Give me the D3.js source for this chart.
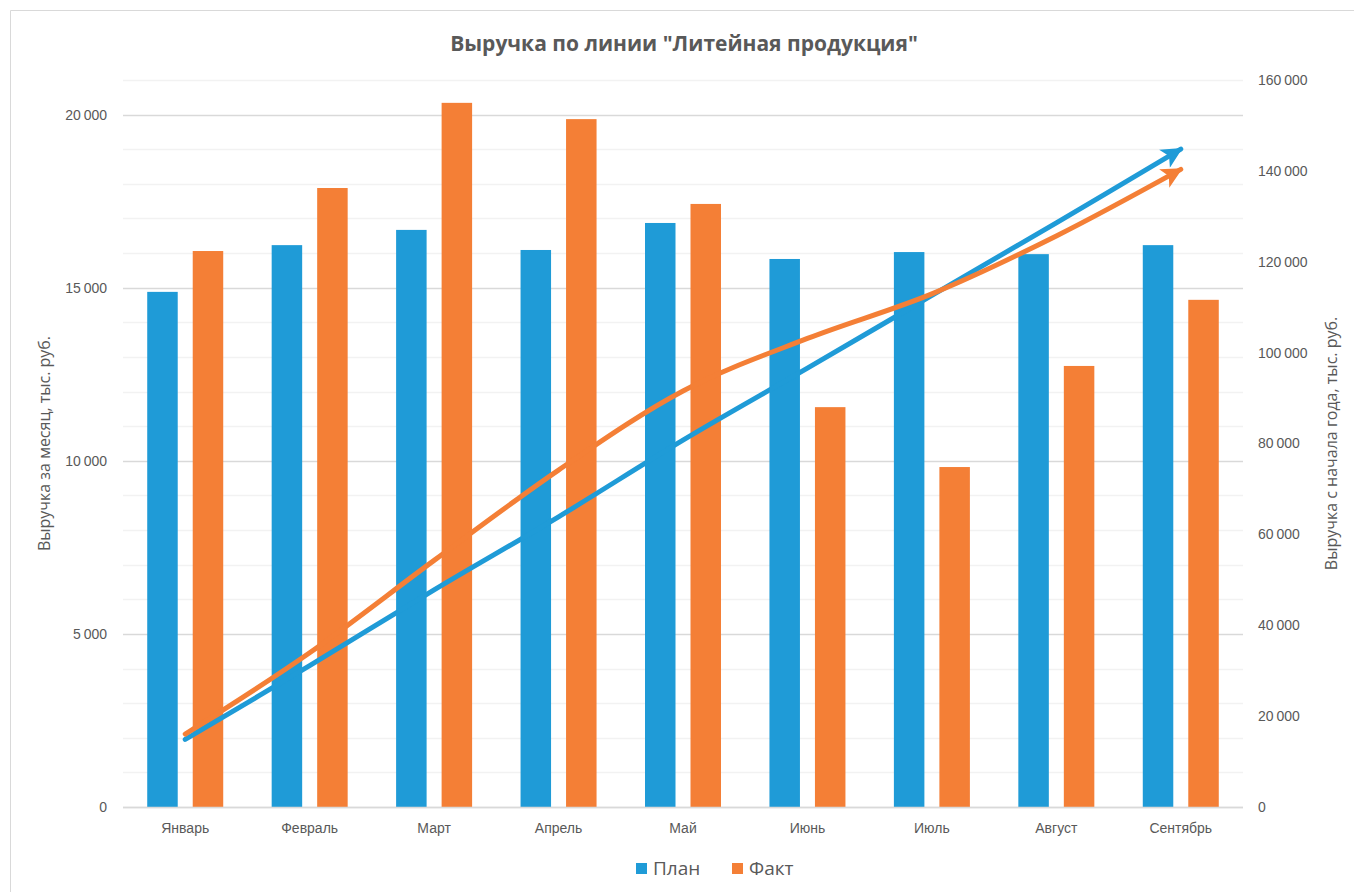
<!DOCTYPE html>
<html>
<head>
<meta charset="utf-8">
<script src="https://cdn.jsdelivr.net/npm/d3@7"></script>
<style>
  body { margin: 0; background: #fff; }
  svg { display: block; font-family: "Open Sans", "Noto Sans", sans-serif; }
  .tick text { fill: #595959; }
</style>
</head>
<body>
<svg id="chart" width="1354" height="892"></svg>
<script>
// chart data
const months = ['Январь', 'Февраль', 'Март', 'Апрель', 'Май', 'Июнь', 'Июль', 'Август', 'Сентябрь'];
const plan = [14880, 16230, 16670, 16090, 16870, 15830, 16030, 15970, 16230];
const fact = [16060, 17880, 20340, 19870, 17420, 11550, 9820, 12740, 14650];
const leftTicks = [0, 5000, 10000, 15000, 20000];
const rightTicks = [0, 20000, 40000, 60000, 80000, 100000, 120000, 140000, 160000];

const BLUE = '#1f9bd7', ORANGE = '#f47f36', TXT = '#595959';

const svg = d3.select('#chart');
const W = 1354, H = 892;
const m = { top: 80, right: 111, bottom: 85, left: 123 };
const iw = W - m.left - m.right, ih = H - m.top - m.bottom;

const loc = d3.formatLocale({ decimal: ',', thousands: '\u2009', grouping: [3], currency: ['', ''] });
const fmt = loc.format(',d');

// frame: only top and left edges are visible in the shot
svg.append('path').attr('d', `M10.5,${H} V10.5 H${W}`)
  .attr('fill', 'none').attr('stroke', '#d9d9d9');

const g = svg.append('g').attr('transform', `translate(${m.left},${m.top})`);

const x = d3.scaleBand().domain(months).range([0, iw]);
const yL = d3.scaleLinear().domain([0, 21000]).range([ih, 0]);
const yR = d3.scaleLinear().domain([0, 160000]).range([ih, 0]);

// gridlines: minor every 1000, major at ticks
g.append('g').selectAll('line').data(d3.range(1000, 21001, 1000).filter(v => v % 5000))
  .join('line').attr('x1', 0).attr('x2', iw)
  .attr('y1', d => Math.round(yL(d)) + .5).attr('y2', d => Math.round(yL(d)) + .5)
  .attr('stroke', '#f2f2f2').attr('stroke-width', 1.3);
g.append('g').selectAll('line').data(leftTicks)
  .join('line').attr('x1', 0).attr('x2', iw)
  .attr('y1', d => Math.round(yL(d)) + .5).attr('y2', d => Math.round(yL(d)) + .5)
  .attr('stroke', '#d9d9d9').attr('stroke-width', 1.3);

// bars
const bw = 30.5, gap = 15;
const series = [{ name: 'План', vals: plan, color: BLUE }, { name: 'Факт', vals: fact, color: ORANGE }];
series.forEach((s, si) => {
  g.append('g').selectAll('rect').data(s.vals).join('rect')
    .attr('x', (d, i) => x(months[i]) + x.bandwidth() / 2 - bw - gap / 2 + si * (bw + gap))
    .attr('y', d => yL(d))
    .attr('width', bw)
    .attr('height', d => ih - yL(d))
    .attr('fill', s.color);
});

// cumulative lines with arrows
const defs = svg.append('defs');
series.forEach((s, si) => {
  defs.append('marker').attr('id', 'arr' + si)
    .attr('viewBox', '0 0 10 10').attr('refX', 9).attr('refY', 5)
    .attr('markerUnits', 'userSpaceOnUse').attr('markerWidth', 24).attr('markerHeight', 21)
    .attr('orient', 'auto')
    .append('path').attr('d', 'M0,0 L10,5 L0,10 L2.5,5 Z').attr('fill', s.color);
});
const line = d3.line()
  .x((d, i) => x(months[i]) + x.bandwidth() / 2)
  .y(d => yR(d))
  .curve(d3.curveCardinal.tension(0));
series.forEach((s, si) => {
  g.append('path').datum(d3.cumsum(s.vals))
    .attr('d', line).attr('fill', 'none').attr('stroke', s.color)
    .attr('stroke-width', 5).attr('stroke-linecap', 'round')
    .attr('marker-end', `url(#arr${si})`);
});

// axes
const axB = g.append('g').attr('transform', `translate(0,${ih})`)
  .call(d3.axisBottom(x).tickSize(0).tickPadding(16));
axB.select('.domain').remove();
axB.selectAll('text').attr('font-size', 14).attr('fill', TXT);
g.append('line').attr('x1', 0).attr('x2', iw).attr('y1', ih + .5).attr('y2', ih + .5)
  .attr('stroke', '#d9d9d9').attr('stroke-width', 1.3);

const axL = g.append('g').call(d3.axisLeft(yL).tickValues(leftTicks).tickFormat(fmt).tickSize(0).tickPadding(16));
axL.select('.domain').remove();
axL.selectAll('text').attr('font-size', 14).attr('fill', TXT);

const axR = g.append('g').attr('transform', `translate(${iw},0)`)
  .call(d3.axisRight(yR).tickValues(rightTicks).tickFormat(fmt).tickSize(0).tickPadding(15));
axR.select('.domain').remove();
axR.selectAll('text').attr('font-size', 14).attr('fill', TXT);

// titles
svg.append('text').attr('x', 684).attr('y', 51).attr('text-anchor', 'middle')
  .attr('font-size', 21).attr('font-weight', 'bold').attr('fill', TXT)
  .text('Выручка по линии "Литейная продукция"');
svg.append('text').attr('transform', `translate(50,${m.top + ih / 2}) rotate(-90)`)
  .attr('text-anchor', 'middle').attr('font-size', 16).attr('fill', TXT)
  .text('Выручка за месяц, тыс. руб.');
svg.append('text').attr('transform', `translate(1337,${m.top + ih / 2}) rotate(-90)`)
  .attr('text-anchor', 'middle').attr('font-size', 16).attr('fill', TXT)
  .text('Выручка с начала года, тыс. руб.');

// legend
const lg = svg.append('g').attr('transform', 'translate(636,869)');
series.forEach((s, i) => {
  const it = lg.append('g').attr('transform', `translate(${i * 96},0)`);
  it.append('rect').attr('x', 0).attr('y', -6).attr('width', 11).attr('height', 11).attr('fill', s.color);
  it.append('text').attr('x', 17).attr('y', 6).attr('font-size', 19).attr('fill', TXT).text(s.name);
});
</script>
</body>
</html>
